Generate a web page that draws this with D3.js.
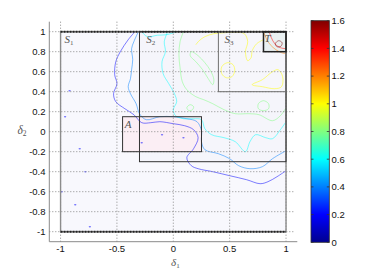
<!DOCTYPE html>
<html>
<head>
<meta charset="utf-8">
<script src="https://cdnjs.cloudflare.com/ajax/libs/d3/7.9.0/d3.min.js"></script>
<style>
 body, html { margin: 0; padding: 0; background: #fff; overflow: hidden; }
 svg { display: block; }
 .tick-label { font-family: "Liberation Sans", Arial, sans-serif; font-size: 9.5px; fill: #111; }
 .math { font-family: "Liberation Serif", "DejaVu Serif", serif; font-style: italic; fill: #555; }
</style>
</head>
<body>
<svg width="382" height="273"></svg>
<script>
// axis ticks
const xTicks = [-1, -0.5, 0, 0.5, 1];
const yTicks = [-1, -0.8, -0.6, -0.4, -0.2, 0, 0.2, 0.4, 0.6, 0.8, 1];
const cbTicks = [0, 0.2, 0.4, 0.6, 0.8, 1, 1.2, 1.4, 1.6];

// sets drawn as boxes
const regions = [
 {id: "S1", sub: "1", x0: -1, x1: 1, y0: -1, y1: 1},
 {id: "S2", sub: "2", x0: -0.3, x1: 1, y0: -0.3, y1: 1},
 {id: "S3", sub: "3", x0: 0.4, x1: 1, y0: 0.4, y1: 1},
 {id: "A", sub: "", x0: -0.45, x1: 0.25, y0: -0.2, y1: 0.15},
 {id: "T", sub: "", x0: 0.8, x1: 1, y0: 0.8, y1: 1}
];

// contour lines (delta1, delta2)
const c02main = [[-0.34,1.0],[-0.40,0.92],[-0.47,0.80],[-0.51,0.70],[-0.52,0.57],[-0.50,0.48],[-0.53,0.38],[-0.51,0.30],[-0.43,0.23],[-0.35,0.17],[-0.28,0.09],[-0.2,0.09],[-0.12,0.10],[0.0,0.08],[0.1,0.06],[0.18,0.02],[0.22,-0.06],[0.18,-0.17],[0.12,-0.26],[0.16,-0.34],[0.22,-0.37],[0.35,-0.40],[0.5,-0.44],[0.65,-0.48],[0.77,-0.52],[0.84,-0.50],[0.92,-0.45],[1.0,-0.39]];
const c04main = [[-0.31,1.0],[-0.35,0.90],[-0.37,0.83],[-0.36,0.72],[-0.37,0.62],[-0.38,0.53],[-0.40,0.45],[-0.38,0.38],[-0.33,0.28],[-0.30,0.18],[-0.24,0.12],[-0.12,0.15],[0.0,0.15],[0.12,0.13],[0.21,0.10],[0.25,0.01],[0.25,-0.1],[0.28,-0.18],[0.40,-0.22],[0.50,-0.27],[0.58,-0.34],[0.68,-0.37],[0.79,-0.35],[0.88,-0.27],[1.0,-0.19]];
const c06top = [[-0.28,1.0],[-0.23,0.95],[-0.14,0.965],[-0.06,0.97],[0.03,1.0]];
const c06main = [[-0.05,1.0],[-0.08,0.9],[-0.07,0.8],[-0.10,0.70],[-0.09,0.58],[-0.04,0.48],[0.01,0.38],[0.03,0.30],[0.0,0.22],[0.02,0.16],[0.09,0.13],[0.18,0.13],[0.25,0.12],[0.28,0.03],[0.34,-0.03],[0.45,-0.06],[0.55,-0.10],[0.64,-0.2],[0.68,-0.1],[0.73,-0.03],[0.82,-0.06],[0.88,-0.07],[0.95,0.02],[1.0,0.10]];
const c08main = [[0.09,1.0],[0.06,0.9],[0.05,0.77],[0.06,0.64],[0.08,0.50],[0.12,0.42],[0.2,0.35],[0.27,0.32],[0.35,0.28],[0.45,0.22],[0.55,0.18],[0.67,0.18],[0.76,0.17],[0.88,0.11],[0.95,0.16],[1.0,0.24]];
const c08tongue = [[0.16,0.80],[0.22,0.76],[0.28,0.69],[0.33,0.61],[0.36,0.52],[0.35,0.47],[0.31,0.53],[0.26,0.62],[0.2,0.70],[0.15,0.76]];
const c08loopA = [[0.80,0.31],[0.845,0.28],[0.845,0.23],[0.80,0.21],[0.755,0.23],[0.755,0.28]];
const c08loopB = [[0.15,0.27],[0.18,0.25],[0.17,0.22],[0.14,0.21],[0.12,0.24]];
const c10main = [[0.2,0.87],[0.23,0.91],[0.28,0.95],[0.36,0.98],[0.46,0.99],[0.55,0.995],[0.63,0.98],[0.66,0.9],[0.64,0.8],[0.66,0.71],[0.69,0.74],[0.70,0.81],[0.74,0.88],[0.8,0.92]];
const c10circle = [[0.48,0.69],[0.53,0.67],[0.545,0.61],[0.52,0.55],[0.47,0.54],[0.43,0.58],[0.43,0.65]];
const c10tongue = [[0.70,0.47],[0.79,0.52],[0.88,0.60],[0.93,0.62],[0.97,0.55],[0.96,0.45],[0.90,0.43],[0.79,0.45]];
const c12arc = [[0.80,1.0],[0.83,0.92],[0.86,0.87],[0.91,0.82],[0.96,0.79],[1.0,0.78]];
const c14arc = [[0.85,1.0],[0.87,0.94],[0.90,0.88],[0.95,0.84],[1.0,0.83]];
const c16loop = [[0.935,0.91],[0.965,0.89],[0.955,0.855],[0.92,0.85],[0.905,0.88]];
// tiny closed contours (specks) at the lowest level
const c02specks = [[-0.92,0.41],[-0.96,0.15],[-0.83,-0.17],[-0.78,-0.40],[-0.99,-0.60],[-0.87,-0.73],[-0.74,-0.95],[-0.10,-0.03],[0.09,-0.06],[-0.28,-0.11]];

const contours = [
 {level: 0.2, pts: c02main, closed: false},
 {level: 0.4, pts: c04main, closed: false},
 {level: 0.6, pts: c06top, closed: false},
 {level: 0.6, pts: c06main, closed: false},
 {level: 0.8, pts: c08main, closed: false},
 {level: 0.8, pts: c08tongue, closed: true},
 {level: 0.8, pts: c08loopA, closed: true},
 {level: 0.8, pts: c08loopB, closed: true},
 {level: 1.0, pts: c10main, closed: false},
 {level: 1.0, pts: c10circle, closed: true},
 {level: 1.0, pts: c10tongue, closed: true},
 {level: 1.2, pts: c12arc, closed: false},
 {level: 1.4, pts: c14arc, closed: false},
 {level: 1.6, pts: c16loop, closed: true}
];

const svg = d3.select("svg");
const x = d3.scaleLinear().domain([-1.1, 1.1]).range([49.3, 297.3]);
const y = d3.scaleLinear().domain([-1.1, 1.1]).range([241.7, 21.7]);
const cb = d3.scaleLinear().domain([0, 1.6]).range([242.3, 20.7]);

// matlab jet
const jetScale = d3.scaleLinear()
 .domain([0, 0.125, 0.375, 0.625, 0.875, 1])
 .range(["#00008f", "#0000ff", "#00ffff", "#ffff00", "#ff0000", "#800000"]);
const jet = v => jetScale(v / 1.6);

const fills = {S1: "#f8f8fd", S2: "#f5f5fb", S3: "#f6f6fb", A: "#fbeef4", T: "#e9f0f1"};

// region fills
svg.append("g").selectAll("rect")
 .data(regions)
 .enter().append("rect")
 .attr("x", d => x(d.x0))
 .attr("y", d => y(d.y1))
 .attr("width", d => x(d.x1) - x(d.x0))
 .attr("height", d => y(d.y0) - y(d.y1))
 .attr("fill", d => fills[d.id]);

// contour lines
const line = d3.line().x(d => x(d[0])).y(d => y(d[1])).curve(d3.curveCatmullRom);
const lineClosed = d3.line().x(d => x(d[0])).y(d => y(d[1])).curve(d3.curveCatmullRomClosed);

svg.append("defs").append("clipPath").attr("id", "clipS1")
 .append("rect")
 .attr("x", x(-1)).attr("y", y(1))
 .attr("width", x(1) - x(-1)).attr("height", y(-1) - y(1));

const cg = svg.append("g").attr("clip-path", "url(#clipS1)");
cg.selectAll("path")
 .data(contours)
 .enter().append("path")
 .attr("d", d => d.closed ? lineClosed(d.pts) : line(d.pts))
 .attr("fill", "none")
 .attr("stroke", d => jet(d.level))
 .attr("stroke-opacity", 0.5)
 .attr("stroke-width", 1);

cg.selectAll("ellipse")
 .data(c02specks)
 .enter().append("ellipse")
 .attr("cx", d => x(d[0]))
 .attr("cy", d => y(d[1]))
 .attr("rx", 1.2).attr("ry", 0.8)
 .attr("fill", jet(0.2))
 .attr("fill-opacity", 0.55);

// dotted grid
const grid = svg.append("g").attr("stroke", "#8a8a8a").attr("stroke-dasharray", "1,2").attr("stroke-width", 1);
grid.selectAll("line.gx")
 .data(xTicks)
 .enter().append("line")
 .attr("x1", d => x(d)).attr("x2", d => x(d))
 .attr("y1", y(-1.1)).attr("y2", y(1.1));
grid.selectAll("line.gy")
 .data(yTicks)
 .enter().append("line")
 .attr("y1", d => y(d)).attr("y2", d => y(d))
 .attr("x1", x(-1.1)).attr("x2", x(1.07));

// region borders
const stroke = {S1: "#8c8c8c", S2: "#333", S3: "#707070", A: "#333", T: "#222"};
const strokeW = {S1: 1.4, S2: 1, S3: 1, A: 1, T: 1.5};
svg.append("g").selectAll("rect")
 .data(regions)
 .enter().append("rect")
 .attr("x", d => x(d.x0))
 .attr("y", d => y(d.y1))
 .attr("width", d => x(d.x1) - x(d.x0))
 .attr("height", d => y(d.y0) - y(d.y1))
 .attr("fill", "none")
 .attr("stroke", d => stroke[d.id])
 .attr("stroke-width", d => strokeW[d.id]);

// thick dotted top and bottom of S1
svg.append("g").selectAll("line")
 .data([regions[0].y0, regions[0].y1])
 .enter().append("line")
 .attr("x1", x(regions[0].x0)).attr("x2", x(regions[0].x1))
 .attr("y1", d => y(d)).attr("y2", d => y(d))
 .attr("stroke", "#222")
 .attr("stroke-width", 2)
 .attr("stroke-dasharray", "2,1");

// region labels
const labelPos = {S1: [-0.965, 0.885], S2: [-0.24, 0.885], S3: [0.455, 0.885], A: [-0.43, 0.035], T: [0.81, 0.9]};
const lab = svg.append("g").selectAll("text")
 .data(regions)
 .enter().append("text")
 .attr("class", "math")
 .attr("x", d => x(labelPos[d.id][0]))
 .attr("y", d => y(labelPos[d.id][1]))
 .style("font-size", "11px");
lab.append("tspan").text(d => d.id[0]);
lab.append("tspan").attr("dy", 2).style("font-size", "7px").style("font-style", "normal").text(d => d.sub);

// axes lines
const axisColor = "#8a8a8a";
svg.append("line")
 .attr("x1", x(-1.1)).attr("x2", x(-1.1))
 .attr("y1", y(-1.1)).attr("y2", y(1.1))
 .attr("stroke", axisColor).attr("stroke-width", 1);
svg.append("line")
 .attr("x1", x(-1.1)).attr("x2", x(1.1))
 .attr("y1", y(-1.1)).attr("y2", y(-1.1))
 .attr("stroke", axisColor).attr("stroke-width", 1);

// tick labels
svg.append("g").selectAll("text")
 .data(yTicks)
 .enter().append("text")
 .attr("class", "tick-label")
 .attr("x", 45.5)
 .attr("y", d => y(d) + 3.3)
 .attr("text-anchor", "end")
 .text(d => String(d));
svg.append("g").selectAll("text")
 .data(xTicks)
 .enter().append("text")
 .attr("class", "tick-label")
 .attr("x", d => x(d))
 .attr("y", 252)
 .attr("text-anchor", "middle")
 .text(d => String(d));

// axis titles
const xt = svg.append("text").attr("class", "math").attr("x", 171).attr("y", 265.5).style("font-size", "11px");
xt.append("tspan").text("δ");
xt.append("tspan").attr("dy", 2).style("font-size", "7px").style("font-style", "normal").text("1");
const yt = svg.append("text").attr("class", "math").attr("x", 17.5).attr("y", 134).style("font-size", "11.5px");
yt.append("tspan").text("δ");
yt.append("tspan").attr("dy", 2).style("font-size", "7.5px").style("font-style", "normal").text("2");

// colorbar
const grad = svg.select("defs").append("linearGradient")
 .attr("id", "jetGrad").attr("x1", 0).attr("y1", 1).attr("x2", 0).attr("y2", 0);
grad.selectAll("stop")
 .data(d3.range(0, 1.0001, 1 / 32))
 .enter().append("stop")
 .attr("offset", d => d)
 .attr("stop-color", d => jetScale(d));

const cbX = 311, cbW = 18.3;
svg.append("rect")
 .attr("x", cbX).attr("y", cb(1.6))
 .attr("width", cbW).attr("height", cb(0) - cb(1.6))
 .attr("fill", "url(#jetGrad)")
 .attr("stroke", "#333").attr("stroke-width", 0.8);

const cbt = svg.append("g");
cbt.selectAll("line.l")
 .data(cbTicks)
 .enter().append("line")
 .attr("x1", cbX).attr("x2", cbX + 2.5)
 .attr("y1", d => cb(d)).attr("y2", d => cb(d))
 .attr("stroke", "#333").attr("stroke-width", 0.8);
cbt.selectAll("line.r")
 .data(cbTicks)
 .enter().append("line")
 .attr("x1", cbX + cbW - 2.5).attr("x2", cbX + cbW)
 .attr("y1", d => cb(d)).attr("y2", d => cb(d))
 .attr("stroke", "#333").attr("stroke-width", 0.8);
cbt.selectAll("text")
 .data(cbTicks)
 .enter().append("text")
 .attr("class", "tick-label")
 .attr("x", 331.5)
 .attr("y", d => cb(d) + 3.3)
 .text(d => String(d));
</script>
</body>
</html>
